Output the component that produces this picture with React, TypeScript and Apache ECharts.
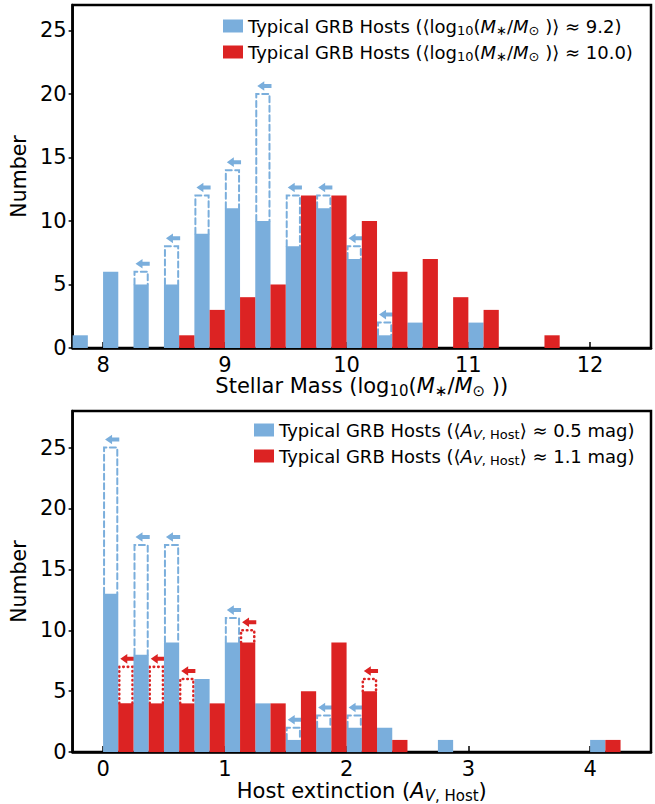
import React, { useEffect, useRef } from "react";
import * as echarts from "echarts";

const BLUE = "#7aaedc";
const RED = "#dc2323";
const FONT = "DejaVu Sans";
const BIN = 0.25;
const HALF = BIN / 2;

// ---- Top panel: stellar mass ----
const massBinStarts = [7.75, 8.0, 8.25, 8.5, 8.75, 9.0, 9.25, 9.5, 9.75, 10.0, 10.25, 10.5, 10.75, 11.0, 11.25, 11.5, 11.75, 12.0];
const massLowCounts = [1, 6, 5, 5, 9, 11, 10, 8, 11, 7, 1, 2, 0, 2, 0, 0, 0, 0];
const massLowUpper = [null, null, 6, 8, 12, 14, 20, 12, 12, 8, 2, null, null, null, null, null, null, null];
const massHighCounts = [0, 0, 0, 1, 3, 4, 5, 12, 12, 10, 6, 7, 4, 3, 0, 1, 0, 0];
const massTicks = [8, 9, 10, 11, 12];

// ---- Bottom panel: host extinction ----
const extBinStarts = [0, 0.25, 0.5, 0.75, 1.0, 1.25, 1.5, 1.75, 2.0, 2.25, 2.5, 2.75, 3.0, 3.25, 3.5, 3.75, 4.0, 4.25];
const extLowCounts = [13, 8, 9, 6, 9, 4, 1, 2, 2, 2, 0, 1, 0, 0, 0, 0, 1, 0];
const extLowUpper = [25, 17, 17, null, 11, null, 2, 3, 3, null, null, null, null, null, null, null, null, null];
const extHighCounts = [4, 4, 4, 4, 9, 4, 5, 9, 5, 1, 0, 0, 0, 0, 0, 0, 1, 0];
const extHighUpper = [7, 7, 6, null, 10, null, null, null, 6, null, null, null, null, null, null, null, null, null];
const extTicks = [0, 1, 2, 3, 4];

const countTicks = [0, 5, 10, 15, 20, 25];

const NAME_MASS_LOW = "Typical GRB Hosts (<log10(M*/Msun)> ~ 9.2)";
const NAME_MASS_HIGH = "Typical GRB Hosts (<log10(M*/Msun)> ~ 10.0)";
const NAME_EXT_LOW = "Typical GRB Hosts (<A_V,Host> ~ 0.5 mag)";
const NAME_EXT_HIGH = "Typical GRB Hosts (<A_V,Host> ~ 1.1 mag)";

const legendRich: Record<string, string> = {
  [NAME_MASS_LOW]: "{n|Typical GRB Hosts (⟨log}{s|10}{n|(}{i|M}{s|∗}{n|/}{i|M}{s|⊙}{n| )⟩ ≈ 9.2)}",
  [NAME_MASS_HIGH]: "{n|Typical GRB Hosts (⟨log}{s|10}{n|(}{i|M}{s|∗}{n|/}{i|M}{s|⊙}{n| )⟩ ≈ 10.0)}",
  [NAME_EXT_LOW]: "{n|Typical GRB Hosts (⟨}{i|A}{si|V}{s|, Host}{n|⟩ ≈ 0.5 mag)}",
  [NAME_EXT_HIGH]: "{n|Typical GRB Hosts (⟨}{i|A}{si|V}{s|, Host}{n|⟩ ≈ 1.1 mag)}",
};

function richStyles(size: number, lh: number) {
  const sub = Math.round(size * 0.7);
  return {
    n: { fontSize: size, fontFamily: FONT, color: "#000", lineHeight: lh },
    i: { fontSize: size, fontFamily: FONT, fontStyle: "italic", color: "#000", lineHeight: lh },
    s: { fontSize: sub, fontFamily: FONT, color: "#000", lineHeight: sub, verticalAlign: "bottom" },
    si: { fontSize: sub, fontFamily: FONT, fontStyle: "italic", color: "#000", lineHeight: sub, verticalAlign: "bottom" },
  };
}

function barRender(offset: number, color: string) {
  return (_p: any, api: any) => {
    const x0 = api.value(0) + offset;
    const h = api.value(1);
    const a = api.coord([x0, 0]);
    const b = api.coord([x0 + HALF, h]);
    return {
      type: "rect",
      shape: { x: a[0], y: b[1], width: b[0] - a[0], height: a[1] - b[1] },
      style: { fill: color },
    };
  };
}

function upperRender(offset: number, color: string, dash: number[], lw: number) {
  return (_p: any, api: any) => {
    const x0 = api.value(0) + offset;
    const lo = api.value(1);
    const up = api.value(2);
    const pl = api.coord([x0, lo]);
    const pu = api.coord([x0 + HALF, up]);
    const xl = pl[0] + 1;
    const xr = pu[0] - 1;
    const yl = pl[1];
    const yu = pu[1];
    const cy = yu - 8;
    const tip = pl[0] + 2;
    const tail = pu[0] + 1;
    const hl = 7;
    return {
      type: "group",
      children: [
        {
          type: "polyline",
          shape: { points: [[xl, yl], [xl, yu], [xr, yu], [xr, yl]] },
          style: { stroke: color, lineWidth: lw, lineDash: dash, fill: null, lineCap: "round" },
        },
        {
          type: "polygon",
          shape: {
            points: [
              [tip, cy],
              [tip + hl, cy - 4.8],
              [tip + hl, cy - 2],
              [tail, cy - 2],
              [tail, cy + 2],
              [tip + hl, cy + 2],
              [tip + hl, cy + 4.8],
            ],
          },
          style: { fill: color },
        },
      ],
    };
  };
}

function pairs(xs: number[], ys: number[]) {
  return xs.map((x, i) => [x, ys[i]]);
}
function upperTriples(xs: number[], lows: number[], ups: (number | null)[]) {
  const out: number[][] = [];
  xs.forEach((x, i) => {
    const u = ups[i];
    if (u !== null && u !== undefined) out.push([x, lows[i], u]);
  });
  return out;
}

function xAxisCfg(gridIndex: number, min: number, max: number, ticks: number[], name: string) {
  return {
    type: "value",
    gridIndex,
    min,
    max,
    name,
    nameLocation: "middle",
    nameGap: 25,
    nameTextStyle: { rich: richStyles(21, 25) },
    axisLine: { show: true, onZero: false, lineStyle: { color: "#000", width: 2.5 } },
    axisTick: { show: true, inside: true, length: 6, customValues: ticks, lineStyle: { color: "#000", width: 1.5 } },
    axisLabel: { show: true, customValues: ticks, fontSize: 21, fontFamily: FONT, color: "#000", margin: 6 },
    splitLine: { show: false },
  };
}

function yAxisCfg(gridIndex: number, max: number) {
  return {
    type: "value",
    gridIndex,
    min: 0,
    max,
    name: "Number",
    nameLocation: "middle",
    nameGap: 34,
    nameTextStyle: { fontSize: 20.5, fontFamily: FONT, color: "#000" },
    axisLine: { show: true, onZero: false, lineStyle: { color: "#000", width: 2.5 } },
    axisTick: { show: true, inside: false, length: 4, customValues: countTicks, lineStyle: { color: "#000", width: 1.5 } },
    axisLabel: { show: true, customValues: countTicks, fontSize: 21, fontFamily: FONT, color: "#000", margin: 6 },
    splitLine: { show: false },
  };
}

function legendCfg(left: number, top: number, data: string[], gap: number) {
  return {
    orient: "vertical",
    left,
    top,
    padding: 0,
    itemGap: gap,
    itemWidth: 20,
    itemHeight: 13,
    icon: "rect",
    data,
    selectedMode: false,
    formatter: (name: string) => legendRich[name] || name,
    textStyle: { rich: richStyles(18, 22) },
  };
}

export default function App() {
  const ref = useRef<HTMLDivElement>(null);
  useEffect(() => {
    if (!ref.current) return;
    const chart = echarts.init(ref.current, null, { renderer: "svg" });
    const option: any = {
      animation: false,
      backgroundColor: "#fff",
      grid: [
        { left: 70, top: 5, right: 4, height: 343, show: true, borderColor: "#000", borderWidth: 2.5, backgroundColor: "transparent" },
        { left: 70, top: 411, right: 4, height: 342, show: true, borderColor: "#000", borderWidth: 2.5, backgroundColor: "transparent" },
      ],
      xAxis: [
        xAxisCfg(0, 7.75, 12.5, massTicks, "{n|Stellar Mass (log}{s|10}{n|(}{i|M}{s|∗}{n|/}{i|M}{s|⊙}{n| ))}"),
        xAxisCfg(1, -0.25, 4.5, extTicks, "{n|Host extinction (}{i|A}{si|V}{s|, Host}{n|)}"),
      ],
      yAxis: [yAxisCfg(0, 27), yAxisCfg(1, 28)],
      legend: [
        legendCfg(223, 17, [NAME_MASS_LOW, NAME_MASS_HIGH], 6),
        legendCfg(254, 421, [NAME_EXT_LOW, NAME_EXT_HIGH], 6),
      ],
      series: [
        {
          type: "custom", name: "mass-low-upper", xAxisIndex: 0, yAxisIndex: 0, z: 1,
          encode: { x: 0, y: [1, 2] },
          data: upperTriples(massBinStarts, massLowCounts, massLowUpper),
          renderItem: upperRender(0, BLUE, [6, 3.5], 2),
          itemStyle: { color: BLUE },
        },
        {
          type: "custom", name: NAME_MASS_LOW, xAxisIndex: 0, yAxisIndex: 0, z: 2,
          encode: { x: 0, y: 1 },
          data: pairs(massBinStarts, massLowCounts),
          renderItem: barRender(0, BLUE),
          itemStyle: { color: BLUE },
        },
        {
          type: "custom", name: NAME_MASS_HIGH, xAxisIndex: 0, yAxisIndex: 0, z: 2,
          encode: { x: 0, y: 1 },
          data: pairs(massBinStarts, massHighCounts),
          renderItem: barRender(HALF, RED),
          itemStyle: { color: RED },
        },
        {
          type: "custom", name: "ext-low-upper", xAxisIndex: 1, yAxisIndex: 1, z: 1,
          encode: { x: 0, y: [1, 2] },
          data: upperTriples(extBinStarts, extLowCounts, extLowUpper),
          renderItem: upperRender(0, BLUE, [6, 3.5], 2),
          itemStyle: { color: BLUE },
        },
        {
          type: "custom", name: "ext-high-upper", xAxisIndex: 1, yAxisIndex: 1, z: 1,
          encode: { x: 0, y: [1, 2] },
          data: upperTriples(extBinStarts, extHighCounts, extHighUpper),
          renderItem: upperRender(HALF, RED, [0.5, 4], 2.6),
          itemStyle: { color: RED },
        },
        {
          type: "custom", name: NAME_EXT_LOW, xAxisIndex: 1, yAxisIndex: 1, z: 2,
          encode: { x: 0, y: 1 },
          data: pairs(extBinStarts, extLowCounts),
          renderItem: barRender(0, BLUE),
          itemStyle: { color: BLUE },
        },
        {
          type: "custom", name: NAME_EXT_HIGH, xAxisIndex: 1, yAxisIndex: 1, z: 2,
          encode: { x: 0, y: 1 },
          data: pairs(extBinStarts, extHighCounts),
          renderItem: barRender(HALF, RED),
          itemStyle: { color: RED },
        },
      ],
    };
    chart.setOption(option);
    return () => chart.dispose();
  }, []);
  return <div ref={ref} style={{ position: "fixed", left: 0, top: 0, width: 655, height: 804 }} />;
}
